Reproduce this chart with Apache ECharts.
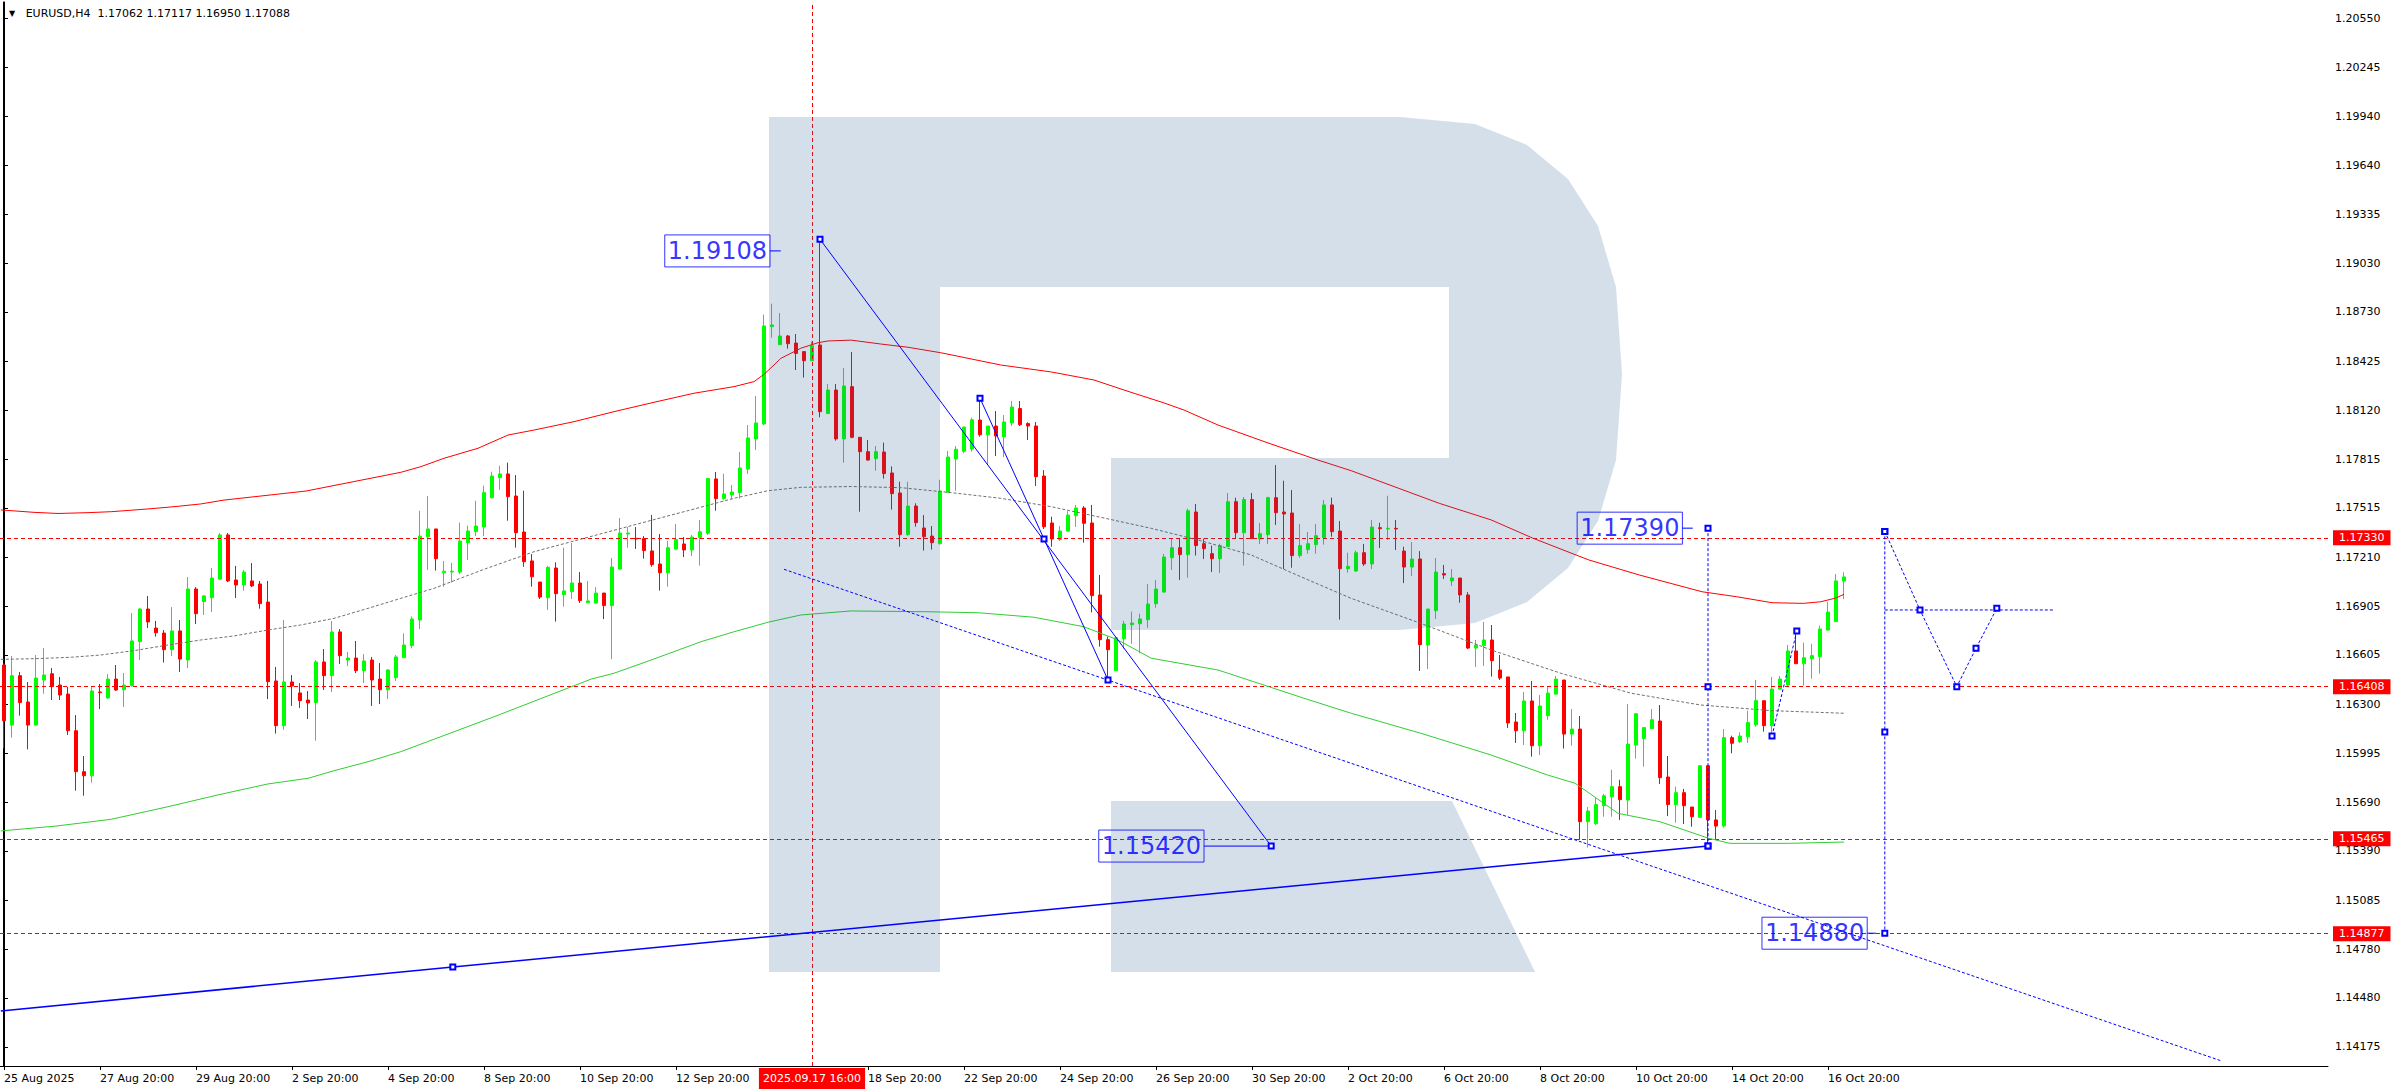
<!DOCTYPE html>
<html><head><meta charset="utf-8">
<script src="https://cdn.jsdelivr.net/npm/echarts@6/dist/echarts.min.js"></script>
<style>html,body{margin:0;padding:0;background:#fff;}#c{width:2392px;height:1090px;}</style>
</head><body><div id="c"></div>
<script>
// ---- candles (EURUSD H4), bar 0 = 25 Aug 20:00 ----
const barOpen = [
1.16542,1.16170,1.16476,1.16313,1.16170,1.16449,1.16488,1.16418,1.16362,1.16135,
1.15881,1.15856,1.16375,1.16338,1.16455,1.16389,1.16414,1.16687,1.16889,1.16771,
1.16740,1.16637,1.16753,1.16573,1.17013,1.16935,1.16959,1.17075,1.17348,1.17069,
1.17038,1.17063,1.17044,1.16932,1.16443,1.16166,1.16437,1.16369,1.16325,1.16309,
1.16561,1.16476,1.16747,1.16573,1.16585,1.16507,1.16573,1.16455,1.16389,1.16464,
1.16588,1.16662,1.16821,1.17337,1.17385,1.17114,1.17118,1.17118,1.17300,1.17368,
1.17397,1.17579,1.17703,1.17726,1.17589,1.17366,1.17187,1.17056,1.16959,1.17143,
1.16978,1.16997,1.17050,1.16928,1.16926,1.16988,1.16910,1.17137,1.17354,1.17327,
1.17325,1.17249,1.17168,1.17114,1.17261,1.17292,1.17255,1.17331,1.17358,1.17695,
1.17573,1.17596,1.17610,1.17757,1.17943,1.18036,1.18639,1.18527,1.18581,1.18537,
1.18484,1.18428,1.18525,1.18100,1.18246,1.17943,1.18267,1.17953,1.17864,1.17821,
1.17862,1.17732,1.17608,1.17350,1.17527,1.17391,1.17341,1.17294,1.17612,1.17819,
1.17866,1.17881,1.18060,1.17969,1.18023,1.17957,1.18042,1.18131,1.18038,1.18023,
1.17713,1.17422,1.17319,1.17372,1.17467,1.17515,1.17422,1.16976,1.16699,1.16507,
1.16705,1.16792,1.16798,1.16823,1.16922,1.16994,1.17207,1.17269,1.17226,1.17490,
1.17294,1.17232,1.17201,1.17275,1.17554,1.17362,1.17567,1.17323,1.17350,1.17579,
1.17490,1.17484,1.17220,1.17257,1.17288,1.17331,1.17534,1.17372,1.17139,1.17125,
1.17238,1.17168,1.17393,1.17385,1.17389,1.17248,1.17149,1.17199,1.16666,1.16879,
1.17108,1.17063,1.17081,1.16976,1.16647,1.16662,1.16697,1.16511,1.16468,1.16189,
1.16135,1.16319,1.16042,1.16228,1.16362,1.16449,1.16114,1.16145,1.15571,1.15559,
1.15670,1.15726,1.15788,1.15705,1.16046,1.16086,1.16148,1.16195,1.15848,1.15677,
1.15751,1.15662,1.15598,1.15918,1.15582,1.15544,1.16092,1.16067,1.16098,1.16172,
1.16321,1.16166,1.16393,1.16418,1.16629,1.16550,1.16581,1.16594,1.16759,1.16811,
1.17062];
const barHigh = [
1.16552,1.16598,1.16499,1.16437,1.16604,1.16647,1.16523,1.16468,1.16406,1.16232,
1.15978,1.16406,1.16424,1.16486,1.16542,1.16492,1.16864,1.16895,1.16970,1.16815,
1.16759,1.16901,1.16821,1.17087,1.17025,1.16976,1.17143,1.17360,1.17360,1.17156,
1.17131,1.17174,1.17063,1.17063,1.16530,1.16821,1.16480,1.16430,1.16381,1.16573,
1.16641,1.16815,1.16765,1.16623,1.16691,1.16610,1.16592,1.16554,1.16517,1.16604,
1.16738,1.16842,1.17498,1.17589,1.17385,1.17187,1.17174,1.17424,1.17405,1.17560,
1.17653,1.17740,1.17777,1.17796,1.17719,1.17622,1.17230,1.17056,1.17156,1.17178,
1.17269,1.17298,1.17118,1.17063,1.17025,1.16988,1.17205,1.17453,1.17397,1.17397,
1.17341,1.17472,1.17354,1.17310,1.17416,1.17335,1.17348,1.17441,1.17697,1.17738,
1.17728,1.17658,1.17862,1.18029,1.18209,1.18713,1.18781,1.18723,1.18587,1.18593,
1.18484,1.18546,1.19180,1.18283,1.18283,1.18383,1.18482,1.17953,1.17936,1.17899,
1.17920,1.17773,1.17678,1.17678,1.17544,1.17471,1.17403,1.17690,1.17868,1.17899,
1.18017,1.18075,1.18195,1.18023,1.18116,1.18091,1.18178,1.18178,1.18046,1.18048,
1.17750,1.17461,1.17403,1.17496,1.17534,1.17527,1.17534,1.17100,1.16718,1.16711,
1.16815,1.16873,1.16860,1.17044,1.17069,1.17230,1.17323,1.17323,1.17511,1.17540,
1.17325,1.17282,1.17294,1.17608,1.17579,1.17583,1.17608,1.17422,1.17585,1.17781,
1.17684,1.17626,1.17416,1.17366,1.17416,1.17565,1.17579,1.17434,1.17238,1.17251,
1.17292,1.17441,1.17424,1.17591,1.17441,1.17275,1.17304,1.17248,1.16889,1.17205,
1.17162,1.17137,1.17081,1.16994,1.16697,1.16809,1.16790,1.16604,1.16468,1.16245,
1.16375,1.16443,1.16356,1.16406,1.16474,1.16449,1.16269,1.16226,1.15662,1.15718,
1.15743,1.15893,1.15831,1.16300,1.16245,1.16158,1.16269,1.16294,1.15978,1.15788,
1.15774,1.15662,1.15922,1.15918,1.15644,1.16145,1.16104,1.16125,1.16259,1.16449,
1.16321,1.16468,1.16474,1.16666,1.16759,1.16680,1.16674,1.16786,1.16932,1.17106,
1.17117];
const barLow = [
1.16026,1.16092,1.16228,1.16019,1.16164,1.16364,1.16325,1.16325,1.16108,1.15763,
1.15732,1.15813,1.16269,1.16331,1.16381,1.16282,1.16408,1.16573,1.16771,1.16718,
1.16557,1.16598,1.16499,1.16523,1.16796,1.16852,1.16870,1.17069,1.17056,1.16957,
1.17003,1.17025,1.16891,1.16331,1.16117,1.16141,1.16288,1.16276,1.16207,1.16073,
1.16387,1.16375,1.16548,1.16536,1.16492,1.16430,1.16288,1.16300,1.16331,1.16443,
1.16588,1.16645,1.16765,1.17131,1.17127,1.17027,1.17052,1.17106,1.17193,1.17341,
1.17341,1.17573,1.17627,1.17436,1.17269,1.17151,1.17027,1.16951,1.16883,1.16811,
1.16904,1.16951,1.16926,1.16926,1.16920,1.16827,1.16577,1.17131,1.17269,1.17261,
1.17201,1.17151,1.17003,1.17027,1.17255,1.17211,1.17218,1.17158,1.17348,1.17498,
1.17567,1.17569,1.17573,1.17726,1.17874,1.18029,1.18570,1.18527,1.18502,1.18370,
1.18323,1.18428,1.18077,1.18100,1.17932,1.17796,1.17947,1.17492,1.17808,1.17746,
1.17697,1.17505,1.17275,1.17343,1.17399,1.17251,1.17257,1.17288,1.17612,1.17622,
1.17854,1.17864,1.17957,1.17781,1.17837,1.17831,1.18023,1.18023,1.17936,1.17651,
1.17385,1.17275,1.17310,1.17366,1.17397,1.17300,1.16868,1.16656,1.16464,1.16507,
1.16643,1.16674,1.16614,1.16773,1.16897,1.16990,1.17131,1.17069,1.17083,1.17220,
1.17199,1.17118,1.17112,1.17275,1.17323,1.17158,1.17325,1.17292,1.17292,1.17410,
1.17137,1.17145,1.17207,1.17232,1.17232,1.17288,1.17337,1.16823,1.17114,1.17118,
1.17156,1.17137,1.17267,1.17317,1.17255,1.17050,1.17094,1.16505,1.16517,1.16827,
1.17075,1.17032,1.16928,1.16641,1.16530,1.16536,1.16470,1.16449,1.16152,1.16059,
1.16046,1.15974,1.15984,1.16203,1.16356,1.16024,1.16042,1.15458,1.15410,1.15551,
1.15602,1.15602,1.15582,1.15613,1.15962,1.15912,1.16148,1.15805,1.15606,1.15565,
1.15557,1.15540,1.15596,1.15430,1.15458,1.15534,1.15995,1.16059,1.16059,1.16160,
1.16129,1.16110,1.16393,1.16412,1.16550,1.16414,1.16457,1.16488,1.16753,1.16811,
1.16950];
const barClose = [
1.16197,1.16476,1.16309,1.16170,1.16461,1.16480,1.16408,1.16356,1.16135,1.15881,
1.15856,1.16381,1.16371,1.16455,1.16387,1.16418,1.16691,1.16889,1.16809,1.16742,
1.16637,1.16753,1.16579,1.17013,1.16860,1.16970,1.17081,1.17348,1.17063,1.17038,
1.17118,1.17032,1.16922,1.16439,1.16166,1.16437,1.16412,1.16321,1.16307,1.16561,
1.16476,1.16747,1.16600,1.16585,1.16507,1.16567,1.16449,1.16389,1.16511,1.16592,
1.16666,1.16827,1.17341,1.17385,1.17201,1.17123,1.17123,1.17310,1.17372,1.17403,
1.17610,1.17713,1.17726,1.17585,1.17362,1.17182,1.17089,1.16963,1.17147,1.16984,
1.17001,1.17050,1.16941,1.16939,1.16988,1.16910,1.17149,1.17360,1.17360,1.17323,
1.17251,1.17164,1.17114,1.17269,1.17319,1.17255,1.17335,1.17368,1.17697,1.17573,
1.17602,1.17614,1.17763,1.17949,1.18042,1.18643,1.18649,1.18581,1.18533,1.18473,
1.18428,1.18521,1.18112,1.18246,1.17943,1.18271,1.17953,1.17864,1.17812,1.17864,
1.17728,1.17604,1.17350,1.17527,1.17424,1.17337,1.17300,1.17620,1.17831,1.17879,
1.18017,1.18062,1.17969,1.18023,1.17961,1.18048,1.18141,1.18031,1.18023,1.17709,
1.17399,1.17323,1.17372,1.17471,1.17515,1.17420,1.16972,1.16699,1.16637,1.16711,
1.16796,1.16802,1.16827,1.16920,1.17013,1.17211,1.17269,1.17226,1.17498,1.17282,
1.17263,1.17201,1.17282,1.17554,1.17362,1.17567,1.17325,1.17356,1.17579,1.17486,
1.17478,1.17220,1.17282,1.17294,1.17343,1.17534,1.17368,1.17139,1.17153,1.17238,
1.17168,1.17397,1.17387,1.17389,1.17385,1.17149,1.17199,1.16668,1.16889,1.17118,
1.17100,1.17081,1.16976,1.16647,1.16666,1.16697,1.16569,1.16461,1.16183,1.16135,
1.16319,1.16042,1.16288,1.16368,1.16455,1.16114,1.16145,1.15571,1.15637,1.15677,
1.15732,1.15788,1.15708,1.16052,1.16240,1.16154,1.16203,1.15844,1.15677,1.15751,
1.15670,1.15602,1.15918,1.15582,1.15544,1.16092,1.16057,1.16102,1.16185,1.16321,
1.16166,1.16393,1.16455,1.16629,1.16550,1.16587,1.16600,1.16765,1.16870,1.17063,
1.17088];

// ---- indicator lines: [bar position, price] ----
const redLine = [[-0.4,1.17503],[3.75,1.17488],[6.75,1.17481],[10.5,1.17486],[13.4,1.17492],[17.5,1.17507],[21.25,1.17523],[24.6,1.17540],[27.5,1.17564],[37.75,1.17620],[49.6,1.17736],[52.1,1.17771],[55,1.17823],[59.25,1.17885],[63,1.17967],[66.25,1.17998],[71.25,1.18050],[76.25,1.18112],[81.25,1.18170],[86.25,1.18226],[91.25,1.18267],[93.75,1.18298],[95,1.18343],[96.25,1.18401],[97.1,1.18442],[99.6,1.18505],[101.75,1.18539],[103,1.18550],[105.9,1.18555],[109.6,1.18531],[113,1.18511],[117.1,1.18477],[124.6,1.18401],[130.9,1.18358],[136.25,1.18308],[140,1.18246],[145,1.18166],[147.5,1.18122],[151.75,1.18029],[158,1.17918],[164.25,1.17812],[168.4,1.17746],[171.5,1.17689],[179.4,1.17544],[185.9,1.17441],[191.1,1.17328],[198.1,1.17193],[204.4,1.17100],[212.25,1.16996],[216.6,1.16965],[221,1.16928],[224.9,1.16924],[227.1,1.16934],[228.9,1.16956],[230,1.16980]];
const grayLine = [[-0.4,1.16577],[3.75,1.16581],[8.4,1.16590],[12.1,1.16604],[16.25,1.16631],[20.5,1.16666],[24.6,1.16697],[28.75,1.16722],[33,1.16759],[37.1,1.16790],[41.25,1.16831],[45.5,1.16893],[49.6,1.16955],[53.75,1.17017],[60,1.17135],[66.25,1.17244],[72.5,1.17327],[78.75,1.17410],[85,1.17492],[91.25,1.17575],[95.5,1.17622],[99.6,1.17643],[105.9,1.17648],[112.1,1.17641],[118.4,1.17610],[124.6,1.17575],[130.9,1.17523],[137.1,1.17457],[143.4,1.17389],[149.6,1.17312],[155.9,1.17224],[162.1,1.17089],[168.4,1.16955],[177.1,1.16800],[185.9,1.16635],[194.6,1.16491],[203.4,1.16367],[212.1,1.16294],[221,1.16259],[230,1.16243]];
const greenLine = [[-0.4,1.15514],[6.5,1.15544],[13.4,1.15586],[20.5,1.15664],[26.75,1.15737],[33,1.15805],[38,1.15840],[41.25,1.15887],[45.5,1.15943],[49.6,1.16005],[61.5,1.16226],[73.4,1.16455],[76.25,1.16491],[80.9,1.16573],[87.1,1.16686],[91.25,1.16748],[95.5,1.16807],[99.6,1.16852],[105.9,1.16877],[115.5,1.16872],[121.75,1.16866],[128.75,1.16838],[135,1.16779],[139.25,1.16697],[143.4,1.16584],[151.75,1.16511],[157.1,1.16424],[162.5,1.16336],[168.4,1.16243],[177.1,1.16119],[185.9,1.15984],[192.9,1.15861],[196.4,1.15809],[201.75,1.15623],[207,1.15571],[213.1,1.15468],[215.75,1.15437],[223.1,1.15437],[230,1.15445]];

// ---- analyst drawings: [bar position, price] ----
const trendA = [[102,1.19180],[158.4,1.15420]];
const trendB = [[122,1.18195],[130,1.17323],[138,1.16449]];
const channelDash = [[97.5,1.17135],[277.1,1.14090]];
const supportLine = [[-0.4,1.14398],[56.1,1.14671],[213,1.15420]];
const rangeA = [[213,1.17390],[213,1.16408],[213,1.15420]];
const rangeB = [[235.1,1.17370],[235.1,1.16127],[235.1,1.14880]];
const forecastZig = [[235.1,1.17370],[239.5,1.16883],[244.1,1.16408],[246.5,1.16646],[249.1,1.16893]];
const forecastLevel = [[235.1,1.16883],[256.1,1.16883]];
const shortWave = [[221,1.16102],[224.1,1.16753]];
const priceLabels = [[95.75,97.1,1.19108,'1.19108'],[150.0,158.4,1.15420,'1.15420'],[209.8,211.1,1.17390,'1.17390'],[232.9,234.0,1.14880,'1.14880']];

// ---- levels and axes ----
const levels = [1.17330, 1.16408, 1.15465, 1.14877];
const lastPrice = 1.17088;
const crossIndex = 101, crossLabel = '2025.09.17 16:00';
const yTicks = [1.20550,1.20245,1.19940,1.19640,1.19335,1.19030,1.18730,1.18425,1.18120,1.17815,1.17515,1.17210,1.16905,1.16605,1.16300,1.15995,1.15690,1.15390,1.15085,1.14780,1.14480,1.14175];
const xTicks = [[0,'25 Aug 2025'],[12,'27 Aug 20:00'],[24,'29 Aug 20:00'],[36,'2 Sep 20:00'],[48,'4 Sep 20:00'],[60,'8 Sep 20:00'],[72,'10 Sep 20:00'],[84,'12 Sep 20:00'],[108,'18 Sep 20:00'],[120,'22 Sep 20:00'],[132,'24 Sep 20:00'],[144,'26 Sep 20:00'],[156,'30 Sep 20:00'],[168,'2 Oct 20:00'],[180,'6 Oct 20:00'],[192,'8 Oct 20:00'],[204,'10 Oct 20:00'],[216,'14 Oct 20:00'],[228,'16 Oct 20:00']];
const headerText = 'EURUSD,H4  1.17062 1.17117 1.16950 1.17088';

const SLOTS = 291, Y_MIN = 1.140572, Y_MAX = 1.206504;
const FONT = 'DejaVu Sans', BLUE = '#0000FF';
const cats = Array.from({length: SLOTS}, (_, i) => String(i));
const tickMap = new Map(xTicks);
const candles = barOpen.map((o, i) => [o, barClose[i], barLow[i], barHigh[i]]);

// watermark outline (logo shape, screen pixels)
const logoBowl = [[769,117],[1400,117],[1475,124],[1527,145],[1568,179],[1598,226],[1616,287],[1622,374],[1616,460],[1598,521],[1568,568],[1527,602],[1475,623],[1400,630],[1111,630],[1111,458],[1449,458],[1449,287],[940,287],[940,972],[769,972]];
const logoLeg = [[1111,801],[1452,801],[1535,972],[1111,972]];

const chart = echarts.init(document.getElementById('c'), null, {renderer: 'svg'});

function blueLine(data, dashed, marks, width) {
  return {
    type: 'line', xAxisIndex: 1, yAxisIndex: 0, z: 10, silent: true,
    data: data.map((d, k) => ({value: d, symbol: marks[k] ? 'emptyRect' : 'none', symbolSize: 5})),
    showSymbol: true, symbol: 'emptyRect', symbolSize: 5,
    itemStyle: {color: BLUE, borderColor: BLUE, borderWidth: 1},
    lineStyle: {color: BLUE, width: width || 1, type: dashed ? [3, 2] : 'solid'},
    animation: false
  };
}
function indicator(data, color, type) {
  return {type: 'line', xAxisIndex: 1, yAxisIndex: 0, z: 3, silent: true, data: data, showSymbol: false, symbol: 'none',
    lineStyle: {color: color, width: 1, type: type || 'solid'}, animation: false};
}

const series = [
  {
    type: 'candlestick', xAxisIndex: 0, yAxisIndex: 0, data: candles, barWidth: 4, z: 2, silent: true,
    itemStyle: {color: '#00FF00', color0: '#FF0000', borderColor: '#00FF00', borderColor0: '#FF0000', borderWidth: 1},
    markLine: {
      silent: true, symbol: ['none', 'none'], precision: 5, animation: false, z: 3,
      lineStyle: {color: '#FF0000', type: [4, 3], width: 1},
      label: {show: true, position: 'end', distance: 5, formatter: p => Number(p.value).toFixed(5),
        color: '#FFFFFF', backgroundColor: '#FF0000', fontSize: 11, fontFamily: FONT, padding: [1, 6], lineHeight: 13},
      data: levels.map(v => ({yAxis: v})).concat([
        {yAxis: lastPrice, lineStyle: {opacity: 0}, label: {backgroundColor: '#000000'}},
        {xAxis: crossIndex, label: {position: 'start', formatter: crossLabel, distance: 2, padding: [4, 4], backgroundColor: '#FF0000'}}
      ])
    }
  },
  indicator(redLine, '#FF0000'),
  indicator(grayLine, '#707070', [3, 2]),
  indicator(greenLine, '#32CD32'),
  blueLine(trendA, false, [1, 1]),
  blueLine(trendB, false, [1, 1, 1]),
  blueLine(channelDash, true, [0, 0]),
  blueLine(supportLine, false, [0, 1, 1], 1.5),
  blueLine(rangeA, true, [1, 1, 1]),
  blueLine(rangeB, true, [1, 1, 1]),
  blueLine(forecastZig, true, [1, 1, 1, 1, 1]),
  blueLine(forecastLevel, true, [0, 0]),
  blueLine(shortWave, true, [1, 1])
];
priceLabels.forEach(([x0, x1, p]) => series.push(blueLine([[x0, p], [x1, p]], false, [0, 0])));
series.push({
  type: 'scatter', xAxisIndex: 1, yAxisIndex: 0, z: 11, silent: true, symbolSize: 0,
  data: priceLabels.map(([x0, x1, p, t]) => ({value: [x0, p], name: t})),
  label: {show: true, position: 'left', distance: 0, formatter: '{b}', color: BLUE, fontSize: 24, fontFamily: FONT,
    borderColor: BLUE, borderWidth: 1, padding: [3, 3, 1, 3], lineHeight: 28},
  animation: false
});

chart.setOption({
  animation: false,
  backgroundColor: '#FFFFFF',
  title: {
    text: '{t|▼}   ' + headerText, left: 4, top: 3,
    textStyle: {fontSize: 11, fontWeight: 'normal', color: '#000', fontFamily: FONT, rich: {t: {fontSize: 8, color: '#000', fontFamily: FONT}}}
  },
  grid: {left: -1, right: 64, top: 2, bottom: 24, containLabel: false},
  xAxis: [
    {
      type: 'category', data: cats, boundaryGap: true, position: 'bottom',
      axisLine: {show: true, lineStyle: {color: '#000', width: 1}},
      axisTick: {show: true, alignWithLabel: true, length: 4, interval: i => tickMap.has(i), lineStyle: {color: '#000'}},
      axisLabel: {show: true, interval: i => tickMap.has(i), formatter: (v, i) => tickMap.get(i) || '', align: 'left',
        fontSize: 11, color: '#000', fontFamily: FONT, margin: 7},
      splitLine: {show: false}
    },
    {type: 'value', min: -0.5, max: SLOTS - 0.5, show: false}
  ],
  yAxis: [
    {
      type: 'value', position: 'right', min: Y_MIN, max: Y_MAX,
      axisLine: {show: true, lineStyle: {color: '#000', width: 1}},
      axisTick: {show: true, length: 4, customValues: yTicks, lineStyle: {color: '#000'}},
      axisLabel: {show: true, customValues: yTicks, formatter: v => v.toFixed(5), fontSize: 11, color: '#000', fontFamily: FONT, margin: 7},
      splitLine: {show: false}
    },
    {
      type: 'value', position: 'left', min: Y_MIN, max: Y_MAX, offset: -3,
      axisLine: {show: true, lineStyle: {color: '#000', width: 1}},
      axisTick: {show: false}, axisLabel: {show: false}, splitLine: {show: false}
    }
  ],
  graphic: [
    {type: 'polygon', z: 4, silent: true, shape: {points: logoBowl, smooth: 0}, style: {fill: 'rgba(45,95,150,0.2)'}},
    {type: 'polygon', z: 4, silent: true, shape: {points: logoLeg}, style: {fill: 'rgba(45,95,150,0.2)'}}
  ],
  series: series
});
</script>
</body></html>
